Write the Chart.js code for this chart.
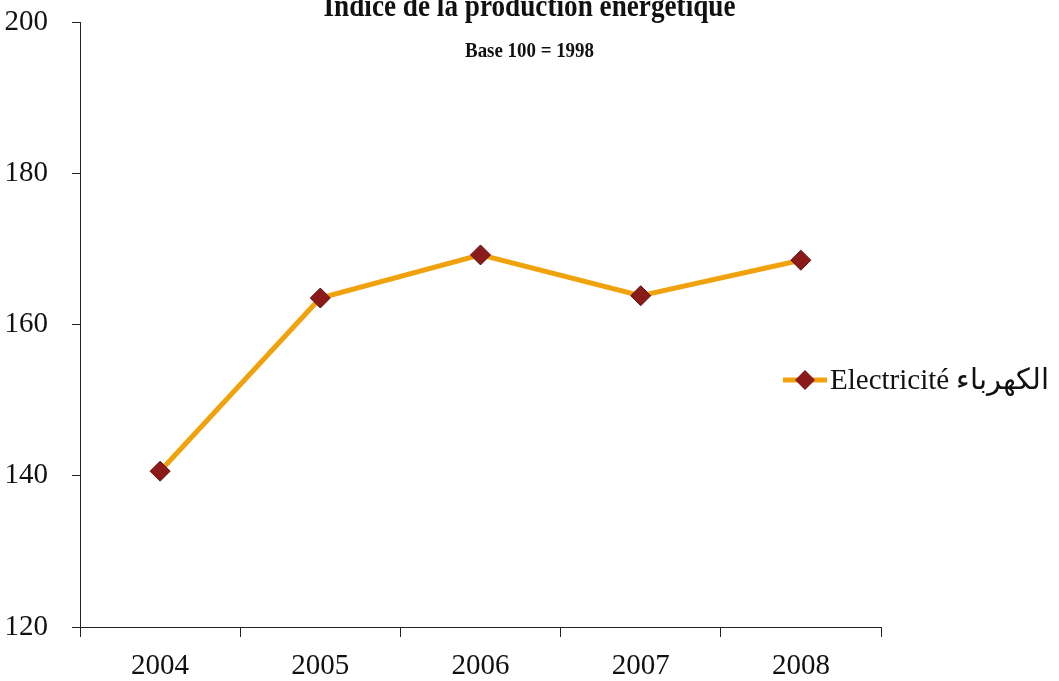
<!DOCTYPE html>
<html>
<head>
<meta charset="utf-8">
<script src="https://cdn.jsdelivr.net/npm/chart.js@4.4.1/dist/chart.umd.min.js"></script>
<style>
  html, body { margin: 0; padding: 0; background: #fff; }
  #wrap { width: 1059px; height: 681px; position: relative; }
</style>
</head>
<body>
<div id="wrap"><canvas id="energyChart"></canvas></div>
<script>
const years = ["2004", "2005", "2006", "2007", "2008"];
const electricite = [140.6, 163.5, 169.2, 163.8, 168.5];
const yTicks = [120, 140, 160, 180, 200];

const titleText = "Indice de la production énergétique";
const subtitleText = "Base 100 = 1998";
const legendText = "Electricité الكهرباء";

const lineColor = "#f0a20c";
const markerColor = "#8b1a1a";
const serif = "'Liberation Serif', 'Times New Roman', serif";

// title, subtitle and legend drawn by hand (they overlap the plot in the original)
const extras = {
    id: "extras",
    afterDraw(chart) {
        const ctx = chart.ctx;
        const cx = chart.width / 2;
        ctx.save();
        ctx.fillStyle = "#111";
        ctx.textAlign = "center";
        ctx.textBaseline = "alphabetic";

        ctx.save();
        ctx.translate(cx, 16);
        ctx.scale(0.85, 1);
        ctx.font = "bold 32px " + serif;
        ctx.fillText(titleText, 0, 0);
        ctx.restore();

        ctx.save();
        ctx.translate(cx, 57);
        ctx.scale(0.9, 1);
        ctx.font = "bold 21px " + serif;
        ctx.fillText(subtitleText, 0, 0);
        ctx.restore();

        // legend
        const ly = 380;
        ctx.strokeStyle = lineColor;
        ctx.lineWidth = 5;
        ctx.beginPath();
        ctx.moveTo(783, ly);
        ctx.lineTo(827, ly);
        ctx.stroke();
        ctx.fillStyle = markerColor;
        ctx.beginPath();
        ctx.moveTo(805, ly - 10);
        ctx.lineTo(815, ly);
        ctx.lineTo(805, ly + 10);
        ctx.lineTo(795, ly);
        ctx.closePath();
        ctx.fill();
        ctx.fillStyle = "#111";
        ctx.textAlign = "left";
        ctx.textBaseline = "middle";
        ctx.font = "29px " + serif;
        ctx.fillText(legendText, 830, ly + 1);
        ctx.restore();
    }
};

new Chart(document.getElementById("energyChart"), {
    type: "line",
    data: {
        labels: years,
        datasets: [{
            label: legendText,
            data: electricite,
            borderColor: lineColor,
            borderWidth: 5,
            pointStyle: "rectRot",
            pointRadius: 10,
            pointHoverRadius: 10,
            pointBackgroundColor: markerColor,
            pointBorderColor: "#5e1010",
            pointBorderWidth: 1,
            tension: 0
        }]
    },
    options: {
        responsive: true,
        maintainAspectRatio: false,
        animation: false,
        layout: { autoPadding: false, padding: { top: 22, right: 178, bottom: 0, left: 0 } },
        plugins: {
            legend: { display: false },
            title: { display: false },
            tooltip: { enabled: false }
        },
        scales: {
            x: {
                offset: true,
                grid: { offset: true, drawOnChartArea: false, drawTicks: true, tickLength: 10, color: "#222", lineWidth: 1 },
                border: { display: true, color: "#222", width: 1 },
                ticks: { color: "#111", font: { family: serif, size: 29 }, padding: 12, maxRotation: 0 },
                afterFit(scale) { scale.height = 54; }
            },
            y: {
                min: 120,
                max: 200,
                afterBuildTicks(scale) { scale.ticks = yTicks.map(v => ({ value: v })); },
                grid: { drawOnChartArea: false, drawTicks: true, tickLength: 8, color: "#222", lineWidth: 1 },
                border: { display: true, color: "#222", width: 1 },
                ticks: { color: "#111", font: { family: serif, size: 29, lineHeight: 0.05 }, padding: 24 },
                afterFit(scale) { scale.width = 80; scale.paddingTop = 0; scale.paddingBottom = 0; }
            }
        }
    },
    plugins: [extras]
});
</script>
</body>
</html>
